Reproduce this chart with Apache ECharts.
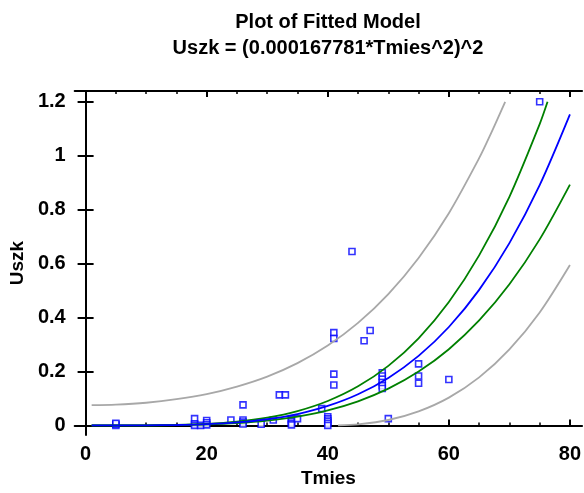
<!DOCTYPE html>
<html>
<head>
<meta charset="utf-8">
<script src="https://cdn.jsdelivr.net/npm/echarts@6/dist/echarts.min.js"></script>
<style>html,body{margin:0;padding:0;background:#fff}#c{width:584px;height:493px}</style>
</head>
<body>
<div id="c"></div>
<script>
// Observed points (Tmies, Uszk)
const obsX = [5,5,5,18,18,18,19,20,20,20,24,26,26,26,26,29,31,32,33,34,34,34,34,35,39,40,40,40,40,40,41,41,41,41,44,46,47,49,49,49,49,49,49,50,55,55,55,60,75];
const obsY = [0.0,0.004,0.008,0.025,0.006,0.0,0.0,0.018,0.01,0.002,0.02,0.076,0.02,0.012,0.005,0.004,0.02,0.113,0.113,0.022,0.015,0.008,0.002,0.025,0.062,0.032,0.024,0.016,0.008,0.0,0.344,0.322,0.19,0.15,0.645,0.314,0.352,0.195,0.183,0.171,0.159,0.147,0.137,0.025,0.228,0.183,0.156,0.17,1.2];

// Fitted curve
const fitX = [1,5,10,15,20,25,30,35,40,45,50,55,60,65,70,75,80];
const fitY = [0,0.00002,0.00028,0.0014,0.0045,0.011,0.0228,0.0422,0.0721,0.1154,0.1759,0.2576,0.3648,0.5025,0.6759,0.8907,1.153];

// Confidence limits (green)
const upConfX = [1,5,10,15,20,25,30,35,40,45,50,55,60,65,70,75,76.3];
const upConfY = [0,0.00002,0.00035,0.0018,0.0057,0.0138,0.0286,0.053,0.0904,0.1448,0.2207,0.3231,0.4576,0.6303,0.8478,1.1173,1.2];
const loConfX = [1,5,10,15,20,25,30,35,40,45,50,55,60,65,70,75,80];
const loConfY = [0,0.00001,0.00022,0.0011,0.0035,0.0085,0.0177,0.0327,0.0558,0.0894,0.1362,0.1995,0.2825,0.3891,0.5234,0.6898,0.8929];

// Prediction limits (gray)
const upPredX = [1,5,10,15,20,25,30,35,40,45,50,55,60,65,67,69.3];
const upPredY = [0.075,0.077,0.084,0.097,0.116,0.144,0.181,0.231,0.296,0.380,0.487,0.621,0.787,0.991,1.085,1.2];
const loPredX = [41.7,45,50,55,60,65,70,75,80];
const loPredY = [0.0,0.004,0.020,0.052,0.103,0.178,0.282,0.419,0.595];

const xLabels = [0,20,40,60,80];
const xMinor = [0,5,10,15,20,25,30,35,40,45,50,55,60,65,70,75,80];
const yLabels = [0,0.2,0.4,0.6,0.8,1,1.2];

const zip = (a,b) => a.map((v,i)=>[v,b[i]]);
const FONT = 'Liberation Sans, Arial, sans-serif';
const lab = {fontFamily: FONT, fontWeight: 'bold', fontSize: 20, color: '#000'};
const nameStyle = {fontFamily: FONT, fontWeight: 'bold', fontSize: 19, color: '#000'};

const chart = echarts.init(document.getElementById('c'), null, {renderer: 'canvas'});
const xCommon = {type: 'value', min: -1.8, max: 82};
const yCommon = {type: 'value', min: -0.036, max: 1.24};
chart.setOption({
  animation: false,
  backgroundColor: '#fff',
  title: {
    text: 'Plot of Fitted Model\nUszk = (0.000167781*Tmies^2)^2',
    left: 323, top: 4, textAlign: 'center',
    textStyle: {fontFamily: FONT, fontWeight: 'bold', fontSize: 20, lineHeight: 26, color: '#000'}
  },
  grid: {left: 72, right: 0, top: 91, bottom: 51, containLabel: false},
  xAxis: [
    Object.assign({}, xCommon, {
      position: 'bottom', name: 'Tmies', nameLocation: 'middle', nameGap: 32,
      nameTextStyle: nameStyle,
      axisLine: {show: true, lineStyle: {color: '#000', width: 2}},
      axisTick: {show: true, inside: true, length: 6, customValues: xLabels, lineStyle: {color: '#000', width: 2}},
      axisLabel: Object.assign({show: true, margin: 9, customValues: xLabels}, lab),
      splitLine: {show: false}
    }),
    Object.assign({}, xCommon, {
      position: 'bottom',
      axisLine: {show: false},
      axisTick: {show: true, inside: true, length: 3, customValues: xMinor, lineStyle: {color: '#000', width: 1.5}},
      axisLabel: {show: false},
      splitLine: {show: false}
    }),
    Object.assign({}, xCommon, {
      position: 'top',
      axisLine: {show: true, lineStyle: {color: '#000', width: 2}},
      axisTick: {show: true, inside: true, length: 6, customValues: xLabels, lineStyle: {color: '#000', width: 2}},
      axisLabel: {show: false},
      splitLine: {show: false}
    }),
    Object.assign({}, xCommon, {
      position: 'top',
      axisLine: {show: false},
      axisTick: {show: true, inside: true, length: 3, customValues: xMinor, lineStyle: {color: '#000', width: 1.5}},
      axisLabel: {show: false},
      splitLine: {show: false}
    })
  ],
  yAxis: [
    Object.assign({}, yCommon, {
      position: 'left', name: 'Uszk', nameLocation: 'middle', nameGap: 45,
      nameTextStyle: nameStyle,
      axisLine: {show: true, lineStyle: {color: '#000', width: 2}},
      axisTick: {show: true, inside: true, length: 8, customValues: yLabels, lineStyle: {color: '#000', width: 2}},
      axisLabel: Object.assign({show: true, margin: 9, customValues: yLabels}, lab),
      splitLine: {show: false}
    }),
    Object.assign({}, yCommon, {
      position: 'right',
      axisLine: {show: false},
      axisTick: {show: true, inside: true, length: 8, customValues: yLabels, lineStyle: {color: '#000', width: 2}},
      axisLabel: {show: false},
      splitLine: {show: false}
    })
  ],
  series: [
    {type: 'line', data: zip(upPredX, upPredY), smooth: 0.3, showSymbol: false, lineStyle: {color: '#a8a8a8', width: 1.8}, itemStyle: {color: '#a8a8a8'}, clip: true},
    {type: 'line', data: zip(loPredX, loPredY), smooth: 0.3, showSymbol: false, lineStyle: {color: '#a8a8a8', width: 1.8}, itemStyle: {color: '#a8a8a8'}, clip: true},
    {type: 'line', data: zip(upConfX, upConfY), smooth: 0.3, showSymbol: false, lineStyle: {color: '#008000', width: 1.8}, itemStyle: {color: '#008000'}, clip: true},
    {type: 'line', data: zip(loConfX, loConfY), smooth: 0.3, showSymbol: false, lineStyle: {color: '#008000', width: 1.8}, itemStyle: {color: '#008000'}, clip: true},
    {type: 'line', data: zip(fitX, fitY), smooth: 0.3, showSymbol: false, lineStyle: {color: '#0000ff', width: 1.8}, itemStyle: {color: '#0000ff'}, clip: true},
    {type: 'scatter', data: zip(obsX, obsY), symbol: 'rect', symbolSize: 6,
     itemStyle: {color: '#ffffff', borderColor: '#0000ff', borderWidth: 1.6}}
  ]
});
</script>
</body>
</html>
